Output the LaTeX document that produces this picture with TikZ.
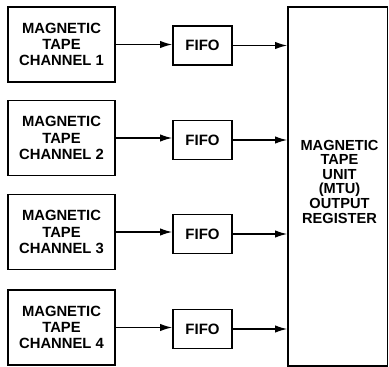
\documentclass[tikz,border=0pt]{standalone}
\usepackage{fontspec}
\setmainfont{Liberation Sans}
\usetikzlibrary{arrows.meta}
\begin{document}
\begin{tikzpicture}[x=1pt,y=-1pt,
  box/.style={draw, line width=1.9pt, align=center, inner sep=0pt},
  chan/.style={box, minimum width=107pt, minimum height=75pt, font=\fontsize{14.8}{16.4}\selectfont\bfseries},
  fifo/.style={box, minimum width=59pt, minimum height=39pt, font=\fontsize{15}{16}\selectfont\bfseries},
  arr/.style={line width=1.3pt, -{Latex[length=12pt,width=7.5pt]}}]
\useasboundingbox (0,0) rectangle (389,367);
\node[chan] (c1) at (61.5,44.5) {MAGNETIC\\TAPE\\CHANNEL 1};
\node[chan] (c2) at (61.5,138) {MAGNETIC\\TAPE\\CHANNEL 2};
\node[chan] (c3) at (61.5,232) {MAGNETIC\\TAPE\\CHANNEL 3};
\node[chan] (c4) at (61.5,327.5) {MAGNETIC\\TAPE\\CHANNEL 4};
\node[fifo] (f1) at (202.5,45.5) {FIFO};
\node[fifo] (f2) at (202.5,140) {FIFO};
\node[fifo] (f3) at (202.5,234) {FIFO};
\node[fifo] (f4) at (202.5,329) {FIFO};
\node[box, minimum width=99.5pt, minimum height=359pt] (m) at (337.75,186.5) {};
\node[font=\fontsize{14.6}{14.6}\selectfont\bfseries, align=center] (mt) at (339.5,181.5) {MAGNETIC\\TAPE\\UNIT\\(MTU)\\OUTPUT\\REGISTER};
\foreach \i in {1,2,3,4}{
  \draw[arr] (c\i.east) -- (c\i.east -| f\i.west);
  \draw[arr] (f\i.east) -- (f\i.east -| m.west);
}
\end{tikzpicture}
\end{document}
